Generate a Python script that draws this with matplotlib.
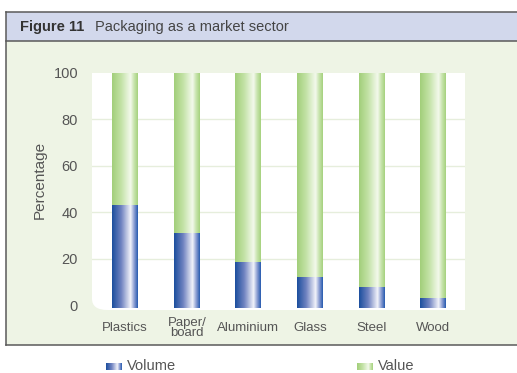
import numpy as np
import matplotlib.pyplot as plt
from matplotlib.patches import Rectangle, FancyBboxPatch
from matplotlib.colors import LinearSegmentedColormap

plt.rcParams['font.family'] = ['Liberation Sans', 'DejaVu Sans']

categories = ["Plastics", "Paper/\nboard", "Aluminium", "Glass", "Steel", "Wood"]
volume = [43, 31, 18.5, 12, 8, 3]
value = [100 - v for v in volume]
yticks = [0, 20, 40, 60, 80, 100]

W, H = 517, 373
fig = plt.figure(figsize=(W / 100, H / 100), dpi=100)

def box(x0, y0, x1, y1):
    # pixel box (top-left origin) -> figure fraction
    return x0 / W, 1 - y1 / H, (x1 - x0) / W, (y1 - y0) / H

# panel backgrounds
l, b, w, h = box(6, 12, 517, 41)
fig.patches.append(Rectangle((l, b), w, h, transform=fig.transFigure, facecolor='#d2d8ec', edgecolor='none'))
l, b, w, h = box(6, 41, 517, 345)
fig.patches.append(Rectangle((l, b), w, h, transform=fig.transFigure, facecolor='#eef4e5', edgecolor='none'))
for x0, y0, x1, y1 in [(6, 12, 517, 12), (6, 41, 517, 41), (6, 345, 517, 345)]:
    fig.add_artist(plt.Line2D([x0 / W, x1 / W], [1 - y0 / H, 1 - y1 / H], transform=fig.transFigure, color='#5a5a5a', lw=1.1))
fig.add_artist(plt.Line2D([6 / W, 6 / W], [1 - 12 / H, 1 - 345 / H], transform=fig.transFigure, color='#5a5a5a', lw=1.1))

fig.text(20 / W, 1 - 27 / H, "Figure 11", fontsize=10.5, fontweight='bold', color='#333333', va='center')
fig.text(95 / W, 1 - 27 / H, "Packaging as a market sector", fontsize=10.5, color='#444444', va='center')

# white plot area with rounded corner
l, b, w, h = box(92, 73, 465, 310)
fig.patches.append(FancyBboxPatch((l, b), w, h, boxstyle="round,pad=0,rounding_size=0.03",
                                  transform=fig.transFigure, facecolor='white', edgecolor='none'))
fig.patches.append(Rectangle((l + 0.03, b), w - 0.03, h, transform=fig.transFigure, facecolor='white', edgecolor='none'))
fig.patches.append(Rectangle((l, b + 0.05), w, h - 0.05, transform=fig.transFigure, facecolor='white', edgecolor='none'))

ax = fig.add_axes(box(92, 73, 465, 310))
ax.set_zorder(5)
ax.set_facecolor('none')
for s in ax.spines.values():
    s.set_visible(False)

for t in yticks[1:-1]:
    ax.axhline(t, color='#e6eedc', lw=1, zorder=0)

blue = LinearSegmentedColormap.from_list('b', [(0, '#1c4f9e'), (0.35, '#6f82c0'), (0.72, '#f2f3fa'), (0.86, '#8ea0d4'), (1, '#2a5cb0')])
green = LinearSegmentedColormap.from_list('g', [(0, '#a2cf7a'), (0.35, '#c3e2a6'), (0.72, '#f3f9ec'), (0.86, '#c8e4ad'), (1, '#a6d27f')])
grad = np.linspace(0, 1, 64).reshape(1, -1)
bw = 0.42
base = -1.2
for i in range(len(categories)):
    ax.imshow(grad, cmap=blue, aspect='auto', extent=(i - bw / 2, i + bw / 2, base, volume[i]), zorder=2)
    ax.imshow(grad, cmap=green, aspect='auto', extent=(i - bw / 2, i + bw / 2, volume[i], volume[i] + value[i]), zorder=2)
ax.set_xlim(-0.54, 5.52)
ax.set_ylim(-2.1, 99.6)

ax.set_yticks(yticks)
ax.set_yticklabels([str(t) for t in yticks], fontsize=10.5, color='#555555')
ax.set_xticks(range(len(categories)))
ax.set_xticklabels(categories, fontsize=9.5, color='#555555', linespacing=0.8, va='center')
ax.tick_params(length=0, axis='y', pad=10)
ax.tick_params(length=0, axis='x', pad=13)
ax.set_ylabel("Percentage", fontsize=11, color='#555555')
ax.yaxis.set_label_coords(-0.12, 0.549)

# legend
for px, lab, cm in [(106, "Volume", blue), (357, "Value", green)]:
    lax = fig.add_axes(box(px, 363, px + 16, 370))
    lax.imshow(grad, cmap=cm, aspect='auto')
    lax.axis('off')
    fig.text((px + 21) / W, 1 - 366 / H, lab, fontsize=10.5, color='#555555', va='center')

fig.savefig("out.png", dpi=100)
